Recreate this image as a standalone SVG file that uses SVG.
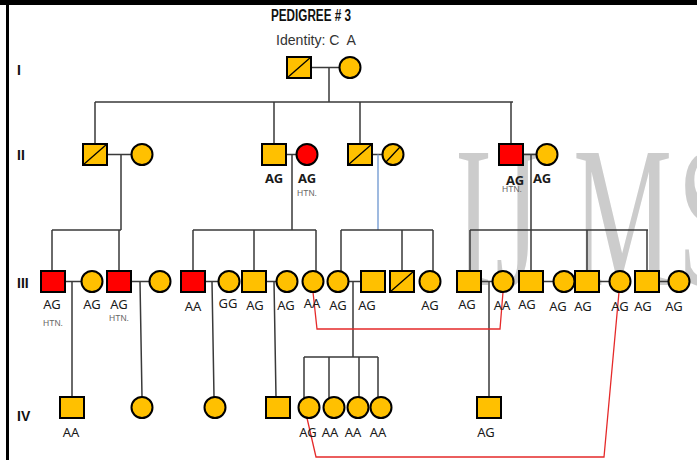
<svg xmlns="http://www.w3.org/2000/svg" width="697" height="460" viewBox="0 0 697 460">
<style>
.y{fill:#ffc000;stroke:#000;stroke-width:2}
.r{fill:#ff0000;stroke:#000;stroke-width:2}
.d{stroke:#000;stroke-width:1.3;fill:none}
.ln{stroke:#3a3a3a;stroke-width:1.5;fill:none}
.blue{stroke:#7fa3d6;stroke-width:1.5;fill:none}
.rl{stroke:#e52a2a;stroke-width:1.3;fill:none}
.lb{font-family:"Noto Sans","Liberation Sans",Arial,sans-serif;font-size:13px;fill:#1a1a1a;text-anchor:middle}
.htn{font-family:"Liberation Sans",Arial,sans-serif;font-size:8.5px;fill:#666;text-anchor:middle}
.gen{font-family:"Liberation Sans",Arial,sans-serif;font-size:14px;font-weight:bold;fill:#111}
.wm{font-family:"Liberation Serif","Times New Roman",serif;font-size:202px;fill:#cccccc}
</style>
<rect width="697" height="460" fill="#fff"/>
<g id="watermark"><text class="wm" transform="translate(455,285) scale(0.55,1)" x="0 73 215 405">IJMS</text></g>
<rect x="0" y="0" width="697" height="5" fill="#000"/>
<rect x="6" y="0" width="3" height="460" fill="#000"/>
<g id="title">
<text x="311" y="21" font-family="Liberation Sans,Arial,sans-serif" font-size="16" font-weight="bold" text-anchor="middle" textLength="80" lengthAdjust="spacingAndGlyphs" fill="#111">PEDIGREE # 3</text>
<text x="316" y="45" font-family="Liberation Sans,Arial,sans-serif" font-size="15" text-anchor="middle" textLength="80" lengthAdjust="spacingAndGlyphs" fill="#333" xml:space="preserve">Identity: C  A</text>
</g>
<g id="generations">
<text class="gen" x="17" y="75">I</text>
<text class="gen" x="17" y="160">II</text>
<text class="gen" x="17" y="288">III</text>
<text class="gen" x="17" y="421">IV</text>
</g>
<g id="connectors">
<path class="ln" d="M311,67.5H339.5M329,67.5V102M95,102H513M95,102V144M274,102V144M360,102V144M511,102V144"/>
<path class="ln" d="M107,154.5H131.5M121,154.5V230M286,154.5H296.5M292,154.5V230M372,154.5H382.5M523,154.5H536.5M531,154.5V230"/>
<path class="blue" d="M378,154.5V230"/>
<path class="ln" d="M52,230H121M52,230V271M119,230V271M193,230H316M193,230V271M254,230V271M316,230V272M341,230H433M341,230V272M402,230V271M433,230V272M470,230H648M470,230V271M531,230V271M587,230V271M647,230V271"/>
<path class="ln" d="M65,281.5H81.5M72,281.5V397M131,281.5H149.5M140,281.5L142,397M205,281.5H218.5M212,281.5L214,397M266,281.5H276.5M274,281.5L276,397M348.5,281.5H361M353,281.5V357M481,281.5H492.5M489,281.5V397M543,281.5H553.5M599,281.5H609.5M659,281.5H668.5"/>
<path class="ln" d="M304,357H378M304,357V398M329,357V398M359,357V397M378,357V398"/>
<polyline class="rl" points="313,292 317,329 500,329 503,292"/>
<polyline class="rl" points="307,418 316,457 604,457 619,292"/>
</g>
<g id="I-1"><rect class="y" x="287" y="57" width="24" height="21"/><line class="d" x1="287" y1="78" x2="311" y2="57"/></g>
<g id="I-2"><circle class="y" cx="350" cy="67.5" r="10.5"/></g>
<g id="II-1"><rect class="y" x="83" y="144" width="24" height="21"/><line class="d" x1="83" y1="165" x2="107" y2="144"/></g>
<g id="II-2"><circle class="y" cx="142" cy="154.5" r="10.5"/></g>
<g id="II-3"><rect class="y" x="262" y="144" width="24" height="21"/><text class="lb" x="274" y="183" font-weight="bold">AG</text></g>
<g id="II-4"><circle class="r" cx="307" cy="154.5" r="10.5"/><text class="lb" x="307" y="183" font-weight="bold">AG</text><text class="htn" x="307" y="196">HTN.</text></g>
<g id="II-5"><rect class="y" x="348" y="144" width="24" height="21"/><line class="d" x1="348" y1="165" x2="372" y2="144"/></g>
<g id="II-6"><circle class="y" cx="393" cy="154.5" r="10.5"/><line class="d" x1="386" y1="162" x2="400" y2="147"/></g>
<g id="II-7"><rect class="r" x="499" y="144" width="24" height="21"/><text class="lb" x="515" y="185" font-weight="bold">AG</text><text class="htn" x="512" y="192">HTN.</text></g>
<g id="II-8"><circle class="y" cx="547" cy="154.5" r="10.5"/><text class="lb" x="542" y="183" font-weight="bold">AG</text></g>
<g id="III-1"><rect class="r" x="41" y="271" width="24" height="21"/><text class="lb" x="52" y="309">AG</text><text class="htn" x="53" y="326">HTN.</text></g>
<g id="III-2"><circle class="y" cx="92" cy="281.5" r="10.5"/><text class="lb" x="92" y="309">AG</text></g>
<g id="III-3"><rect class="r" x="107" y="271" width="24" height="21"/><text class="lb" x="119" y="309">AG</text><text class="htn" x="119" y="321">HTN.</text></g>
<g id="III-4"><circle class="y" cx="160" cy="281.5" r="10.5"/></g>
<g id="III-5"><rect class="r" x="181" y="271" width="24" height="21"/><text class="lb" x="193" y="311">AA</text></g>
<g id="III-6"><circle class="y" cx="229" cy="281.5" r="10.5"/><text class="lb" x="228" y="308">GG</text></g>
<g id="III-7"><rect class="y" x="242" y="271" width="24" height="21"/><text class="lb" x="255" y="310">AG</text></g>
<g id="III-8"><circle class="y" cx="287" cy="281.5" r="10.5"/><text class="lb" x="286" y="310">AG</text></g>
<g id="III-9"><circle class="y" cx="313" cy="281.5" r="10.5"/><text class="lb" x="312" y="308">AA</text></g>
<g id="III-10"><circle class="y" cx="338" cy="281.5" r="10.5"/><text class="lb" x="338" y="310">AG</text></g>
<g id="III-11"><rect class="y" x="361" y="271" width="24" height="21"/><text class="lb" x="367" y="310">AG</text></g>
<g id="III-12"><rect class="y" x="390" y="271" width="24" height="21"/><line class="d" x1="390" y1="292" x2="414" y2="271"/></g>
<g id="III-13"><circle class="y" cx="430" cy="281.5" r="10.5"/><text class="lb" x="430" y="310">AG</text></g>
<g id="III-14"><rect class="y" x="457" y="271" width="24" height="21"/><text class="lb" x="467" y="309">AG</text></g>
<g id="III-15"><circle class="y" cx="503" cy="281.5" r="10.5"/><text class="lb" x="502" y="310">AA</text></g>
<g id="III-16"><rect class="y" x="519" y="271" width="24" height="21"/><text class="lb" x="527" y="309">AG</text></g>
<g id="III-17"><circle class="y" cx="564" cy="281.5" r="10.5"/><text class="lb" x="558" y="311">AG</text></g>
<g id="III-18"><rect class="y" x="575" y="271" width="24" height="21"/><text class="lb" x="583" y="311">AG</text></g>
<g id="III-19"><circle class="y" cx="620" cy="281.5" r="10.5"/><text class="lb" x="620" y="311">AG</text></g>
<g id="III-20"><rect class="y" x="635" y="271" width="24" height="21"/><text class="lb" x="643" y="311">AG</text></g>
<g id="III-21"><circle class="y" cx="679" cy="281.5" r="10.5"/><text class="lb" x="674" y="311">AG</text></g>
<g id="IV-1"><rect class="y" x="60" y="397" width="24" height="21"/><text class="lb" x="71" y="437">AA</text></g>
<g id="IV-2"><circle class="y" cx="142" cy="407.5" r="10.5"/></g>
<g id="IV-3"><circle class="y" cx="215" cy="407.5" r="10.5"/></g>
<g id="IV-4"><rect class="y" x="266" y="397" width="24" height="21"/></g>
<g id="IV-5"><circle class="y" cx="309" cy="407.5" r="10.5"/><text class="lb" x="308" y="437">AG</text></g>
<g id="IV-6"><circle class="y" cx="334" cy="407.5" r="10.5"/><text class="lb" x="330" y="437">AA</text></g>
<g id="IV-7"><circle class="y" cx="358" cy="407.5" r="10.5"/><text class="lb" x="353" y="437">AA</text></g>
<g id="IV-8"><circle class="y" cx="381" cy="407.5" r="10.5"/><text class="lb" x="378" y="437">AA</text></g>
<g id="IV-9"><rect class="y" x="477" y="397" width="24" height="21"/><text class="lb" x="486" y="437">AG</text></g>
</svg>
